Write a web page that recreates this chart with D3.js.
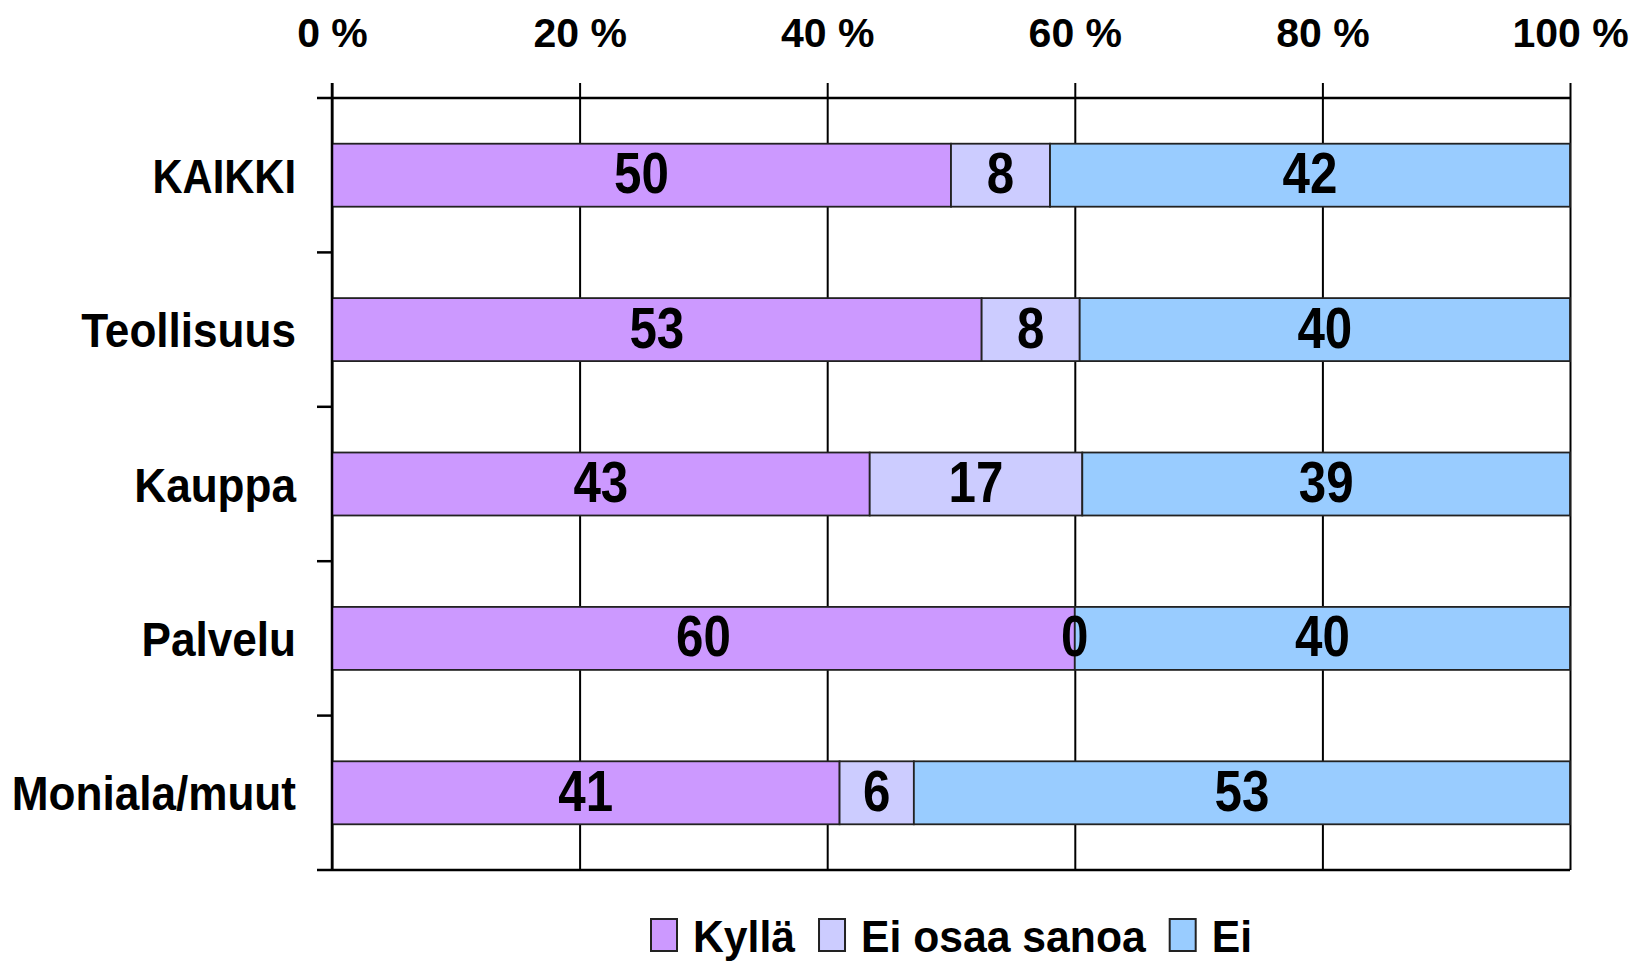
<!DOCTYPE html>
<html>
<head>
	<meta charset="utf-8">
	<title>Kyllä / Ei osaa sanoa / Ei</title>
	<style>
		body {
			margin: 0;
			background: #fff;
		}
		svg text {
			font-family: 'Liberation Sans Narrow', 'Arial Narrow', 'Liberation Sans', Arial, sans-serif;
			font-weight: bold;
			fill: #000;
		}
		.tick-label {
			font-family: 'Liberation Sans', Arial, sans-serif;
		}
	</style>
</head>
<body>
	<svg width='1634' height='962'></svg>
<script src='https://d3js.org/d3.v7.min.js'></script>
<script>
	// data
	let categories = ['KAIKKI', 'Teollisuus', 'Kauppa', 'Palvelu', 'Moniala/muut']
	let series = ['Kyllä', 'Ei osaa sanoa', 'Ei']
	let kylla = [50, 53, 43, 60, 41]
	let eiOsaa = [8, 8, 17, 0, 6]
	let ei = [42, 40, 39, 40, 53]
	let tickValues = [0, 0.2, 0.4, 0.6, 0.8, 1]
	let colors = ['#cc99ff', '#ccccff', '#99ccff']

	let rows = categories.map((c, i) => ({
		cat: c,
		'Kyllä': kylla[i],
		'Ei osaa sanoa': eiOsaa[i],
		'Ei': ei[i]
	}))

	let svg = d3.select('svg')

	let plotLeft = 332
	let plotRight = 1570
	let plotTop = 98
	let plotBottom = 870

	// no narrow font here, so squeeze the text sideways
	function squeeze(sel, k) {
		let out = 0
		sel.each(function() {
			let w = this.getComputedTextLength()
			let kk = typeof k == 'function' ? k(this.textContent) : k
			if (w > 0) {
				this.setAttribute('textLength', w * kk)
				this.setAttribute('lengthAdjust', 'spacingAndGlyphs')
			}
			out = w * kk
		})
		return out
	}

	let x = d3.scaleLinear()
		.domain([0, 1])
		.range([plotLeft, plotRight])

	let y = d3.scaleBand()
		.domain(categories)
		.range([plotTop, plotBottom])
		.paddingInner(0.592)
		.paddingOuter(0.296)

	let color = d3.scaleOrdinal()
		.domain(series)
		.range(colors)

	// rows sum to 99..101, the bars are always stretched to 100 %
	let stacked = d3.stack()
		.keys(series)
		.offset(d3.stackOffsetExpand)(rows)

	// gridlines + top axis
	let xAxis = svg.append('g')
		.attr('transform', `translate(0,${plotTop})`)
		.call(d3.axisTop(x)
			.tickValues(tickValues)
			.tickSize(15)
			.tickFormat(d => Math.round(d * 100) + ' %'))

	xAxis.select('.domain').remove()
	xAxis.selectAll('.tick line')
		.attr('y1', plotBottom - plotTop)
		.attr('y2', -15)
		.style('stroke', '#000')
		.style('stroke-width', 2)
	xAxis.selectAll('.tick text')
		.attr('class', 'tick-label')
		.attr('y', -51)
		.attr('dy', 0)
		.style('font-size', '41px')

	// top and bottom frame lines, category ticks on the left
	let bounds = categories.map(c => y(c) - y.step() * y.paddingInner() / 2)
	bounds.push(plotBottom)

	svg.append('g')
		.selectAll('line')
		.data(bounds)
		.join('line')
		.attr('x1', plotLeft - 15)
		.attr('x2', (d, i) => (i == 0 || i == bounds.length - 1) ? plotRight : plotLeft)
		.attr('y1', d => d)
		.attr('y2', d => d)
		.style('stroke', '#000')
		.style('stroke-width', 2.5)

	// bars
	let layers = svg.append('g')
		.selectAll('g')
		.data(stacked)
		.join('g')
		.style('fill', d => color(d.key))

	layers.selectAll('rect')
		.data(d => d)
		.join('rect')
		.attr('x', d => x(d[0]))
		.attr('y', d => y(d.data.cat))
		.attr('width', d => x(d[1]) - x(d[0]))
		.attr('height', y.bandwidth())
		.style('stroke', '#222')
		.style('stroke-width', 1.8)

	// left axis line on top of the bars
	svg.append('line')
		.attr('x1', plotLeft)
		.attr('x2', plotLeft)
		.attr('y1', plotTop - 15)
		.attr('y2', plotBottom)
		.style('stroke', '#000')
		.style('stroke-width', 2.5)

	// value labels
	let values = svg.append('g')
		.selectAll('g')
		.data(stacked)
		.join('g')
		.selectAll('text')
		.data(d => d.map(p => ({ p: p, key: d.key })))
		.join('text')
		.attr('x', d => x((d.p[0] + d.p[1]) / 2))
		.attr('y', d => y(d.p.data.cat) + y.bandwidth() / 2 + 18)
		.attr('text-anchor', 'middle')
		.style('font-size', '58px')
		.text(d => d.p.data[d.key])
	squeeze(values, 0.85)

	// category labels (capitals come out a bit narrower)
	let yAxis = svg.append('g')
		.attr('transform', `translate(${plotLeft},0)`)
		.call(d3.axisLeft(y).tickSize(0).tickPadding(36))

	yAxis.select('.domain').remove()
	yAxis.selectAll('.tick text')
		.attr('dy', '0.36em')
		.style('font-size', '49px')
	squeeze(yAxis.selectAll('.tick text'), t => t == t.toUpperCase() ? 0.85 : 0.9)

	// legend
	let legend = svg.append('g')
		.attr('transform', 'translate(651,919)')

	let lx = 0
	series.forEach((s, i) => {
		legend.append('rect')
			.attr('x', lx)
			.attr('y', 0)
			.attr('width', 26)
			.attr('height', 32)
			.style('fill', color(s))
			.style('stroke', '#222')
			.style('stroke-width', 2)

		let t = legend.append('text')
			.attr('x', lx + 42)
			.attr('y', 33)
			.style('font-size', '44px')
			.text(s)
		let w = squeeze(t, 0.97)

		lx += 42 + w + 24
	})
</script>
</body>
</html>
